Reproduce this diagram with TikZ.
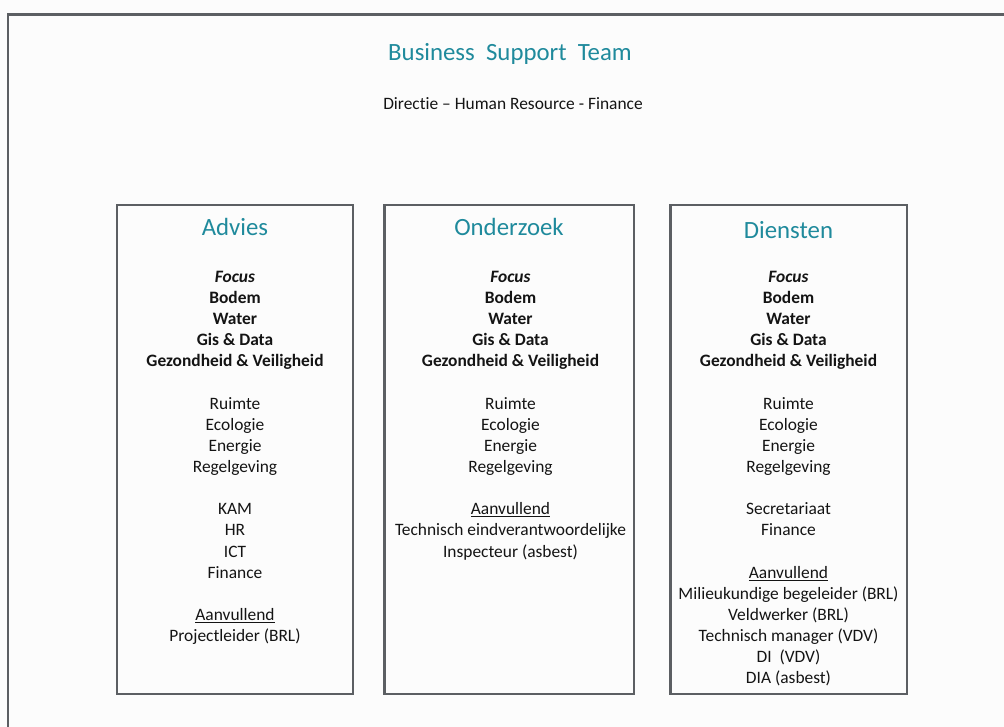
\documentclass[tikz,border=0pt]{standalone}
\usepackage{fontspec}
\setmainfont{Carlito}[Ligatures=NoCommon]
\usepackage{array}
\definecolor{teal}{RGB}{31,138,156}
\definecolor{frame}{RGB}{92,95,99}
\definecolor{ink}{RGB}{20,20,20}
\tikzset{
  panel/.style={draw=frame, line width=2.6pt},
  heading/.style={text=teal, font=\fontsize{24.8}{28}\selectfont, inner sep=0pt, anchor=base},
  body/.style={text=ink, font=\fontsize{17.4}{21.12}\selectfont, inner sep=0pt, anchor=base},
}
\newcommand{\colbox}[1]{\renewcommand{\arraystretch}{1}\begin{tabular}[t]{@{}c@{}}#1\end{tabular}}
\newcommand{\gap}{\\[21.12pt]}
\begin{document}
\begin{tikzpicture}[x=1pt,y=-1pt]
  \useasboundingbox (0,0) rectangle (1004,727);
  \clip (0,0) rectangle (1004,727);
  \fill[white!99!black] (0,0) rectangle (1004,727);
  % outer frame, running past the right and bottom edges
  \draw[panel] (8,14.5) rectangle (1030,760);

  % title
  \node[heading] (title) at (510,61) {Business\ \ Support\ \ Team};
  \node[body] (sub) at (513,109.5) {Directie -- Human Resource - Finance};

  % the three columns
  \draw[panel] (117,205) rectangle (353,694);
  \draw[panel] (384.5,205) rectangle (634,694);
  \draw[panel] (670.5,205) rectangle (907,694);

  \node[heading] (adv) at (235,236) {Advies};
  \node[heading] (ond) at (509,236) {Onderzoek};
  \node[heading] (die) at (788.5,239) {Diensten};

  \node[body] (advtext) at (235,282.5) {\colbox{
    \textbf{\textit{Focus}}\\ \textbf{Bodem}\\ \textbf{Water}\\ \textbf{Gis \& Data}\\ \textbf{Gezondheid \& Veiligheid}\gap
    Ruimte\\ Ecologie\\ Energie\\ Regelgeving\gap
    KAM\\ HR\\ ICT\\ Finance\gap
    \underline{Aanvullend}\\ Projectleider (BRL)}};

  \node[body] (ondtext) at (510.5,282.5) {\colbox{
    \textbf{\textit{Focus}}\\ \textbf{Bodem}\\ \textbf{Water}\\ \textbf{Gis \& Data}\\ \textbf{Gezondheid \& Veiligheid}\gap
    Ruimte\\ Ecologie\\ Energie\\ Regelgeving\gap
    \underline{Aanvullend}\\ Technisch eindverantwoordelijke\\ Inspecteur (asbest)}};

  \node[body] (dietext) at (788.5,282.5) {\colbox{
    \textbf{\textit{Focus}}\\ \textbf{Bodem}\\ \textbf{Water}\\ \textbf{Gis \& Data}\\ \textbf{Gezondheid \& Veiligheid}\gap
    Ruimte\\ Ecologie\\ Energie\\ Regelgeving\gap
    Secretariaat\\ Finance\gap
    \underline{Aanvullend}\\ Milieukundige begeleider\ (BRL)\\ Veldwerker\ (BRL)\\ Technisch manager (VDV)\\ DI\ \ (VDV)\\ DIA (asbest)}};
\end{tikzpicture}
\end{document}
